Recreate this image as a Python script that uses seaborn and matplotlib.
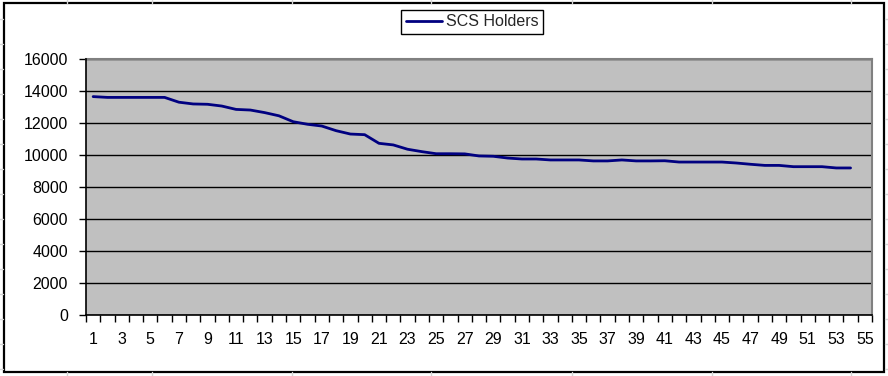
import numpy as np
import pandas as pd
import seaborn as sns
import matplotlib.pyplot as plt
from matplotlib.lines import Line2D

# --- data ---
series_name = "SCS Holders"
holders = [13650, 13600, 13600, 13600, 13600, 13600, 13300, 13190, 13170, 13060,
           12850, 12810, 12650, 12450, 12080, 11920, 11810, 11520, 11310, 11270,
           10730, 10630, 10360, 10210, 10080, 10080, 10070, 9940, 9920, 9810,
           9750, 9750, 9690, 9690, 9690, 9630, 9630, 9690, 9630, 9630,
           9640, 9560, 9560, 9560, 9560, 9500, 9420, 9350, 9350, 9270,
           9270, 9270, 9190, 9190]
periods = list(range(1, len(holders) + 1))
x_labels = list(range(1, 56, 2))
y_ticks = list(range(0, 16001, 2000))

df = pd.DataFrame({"period": periods, "holders": holders})

sns.set_theme(style="white")
plt.rcParams['font.family'] = ['Liberation Sans', 'DejaVu Sans']

fig = plt.figure(figsize=(8.88, 3.76), dpi=100)
ax = fig.add_axes([86/888, 1-315/376, (872-86)/888, (315-59)/376])
ax.set_facecolor("#C0C0C0")

sns.lineplot(data=df, x="period", y="holders", color="#000080", linewidth=2.0,
             ax=ax, legend=False, zorder=3)

# axes scale like an excel category axis
ax.set_xlim(0.5, 55.5)
ax.set_ylim(0, 16000)
ax.set_yticks(y_ticks)
ax.set_yticklabels([str(v) for v in y_ticks], fontsize=11.5, color="black")
ax.set_xticks(x_labels)
ax.set_xticklabels([str(v) for v in x_labels], fontsize=11.5, color="black")
ax.set_xticks(np.arange(0.5, 56, 1), minor=True)
ax.tick_params(axis="x", which="major", length=0, pad=12.5)
ax.tick_params(axis="x", which="minor", length=5, width=1, color="black", direction="out", bottom=True)
ax.tick_params(axis="y", which="major", length=5, width=1, color="black", direction="out", left=True, pad=8)
ax.set_xlabel("")
ax.set_ylabel("")

ax.grid(axis="y", color="black", linewidth=1)
ax.grid(axis="x", visible=False)
ax.set_axisbelow(True)

for side in ["left", "bottom"]:
    ax.spines[side].set_color("black")
    ax.spines[side].set_linewidth(1.2)
    ax.spines[side].set_zorder(4)
for side in ["top", "right"]:
    ax.spines[side].set_color("#808080")
    ax.spines[side].set_linewidth(1.5)

# legend box at the top
handle = Line2D([0], [0], color="#000080", linewidth=2.0)
fig.legend([handle], [series_name], loc="center", bbox_to_anchor=(472/888, 1-21.8/376),
           fontsize=11.5, frameon=True, fancybox=False, edgecolor="black", framealpha=1,
           handlelength=2.3, handletextpad=0.2, borderpad=0.3, borderaxespad=0)
leg = fig.legends[0]
leg.get_frame().set_linewidth(1.0)

# spreadsheet cell lines peeking out around the chart
for xp in [67, 152, 292, 431, 572, 712, 851]:
    fig.add_artist(Line2D([xp/888, xp/888], [1, 1-3/376], color="#D4D4D4", linewidth=1))
    fig.add_artist(Line2D([xp/888, xp/888], [0, 4/376], color="#D4D4D4", linewidth=1))
for yp in range(19, 376, 25):
    fig.add_artist(Line2D([0, 3/888], [1-yp/376, 1-yp/376], color="#D4D4D4", linewidth=1))
    fig.add_artist(Line2D([885/888, 1], [1-yp/376, 1-yp/376], color="#D4D4D4", linewidth=1))

# chart border
fig.add_artist(plt.Rectangle((3.5/888, 1-372/376), 880.5/888, 369.5/376, fill=False,
                             edgecolor="black", linewidth=1.6, transform=fig.transFigure))

fig.savefig("out.png", dpi=100, facecolor="white")
